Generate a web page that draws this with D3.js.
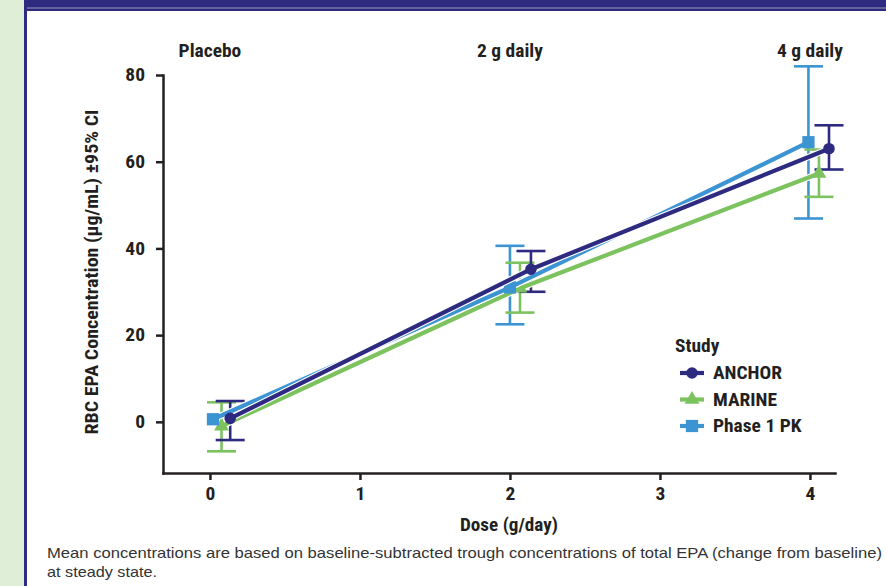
<!DOCTYPE html>
<html><head><meta charset="utf-8">
<script src="https://cdn.jsdelivr.net/npm/d3@7"></script>
<style>
body{margin:0;background:#fff;}
svg{display:block;}
.cond{font-family:"Liberation Sans Narrow","Roboto Condensed","Arial Narrow",sans-serif;font-weight:bold;}
</style></head>
<body>
<svg id="chart" width="886" height="586"></svg>
<script>
const seriesNames = ["Phase 1 PK", "MARINE", "ANCHOR"];
const seriesColors = ["#3d94d2", "#7cc35f", "#2d2a80"];
const seriesShapes = ["square", "triangle", "circle"];
// dose (plotted with a slight dodge), mean, lower CI, upper CI
const phase1X = [0.02, 2.0, 3.99];
const phase1Y = [0.6, 31.0, 64.5];
const phase1Lo = [0.6, 22.5, 46.9];
const phase1Hi = [0.6, 40.6, 82.0];
const marineX = [0.077, 2.067, 4.06];
const marineY = [-1.0, 30.8, 57.3];
const marineLo = [-6.8, 25.2, 51.9];
const marineHi = [4.5, 36.7, 62.8];
const anchorX = [0.135, 2.14, 4.127];
const anchorY = [0.8, 35.2, 63.0];
const anchorLo = [-4.2, 30.0, 58.2];
const anchorHi = [4.8, 39.4, 68.4];
const xTicks = [0, 1, 2, 3, 4];
const yTicks = [0, 20, 40, 60, 80];
const doseLabels = ["Placebo", "2 g daily", "4 g daily"];
const doseLabelX = [0, 2, 4];
const legendOrder = ["ANCHOR", "MARINE", "Phase 1 PK"];

const svg = d3.select("#chart");
// frame
svg.append("rect").attr("x",0).attr("y",0).attr("width",24).attr("height",586).attr("fill","#dfeed6");
svg.append("rect").attr("x",24).attr("y",0).attr("width",862).attr("height",11).attr("fill","#2d2a80");
svg.append("line").attr("x1",27).attr("x2",886).attr("y1",8).attr("y2",8).attr("stroke","#9a9ab8").attr("stroke-width",1);
svg.append("rect").attr("x",24).attr("y",0).attr("width",3).attr("height",586).attr("fill","#2d2a80");

const x = d3.scaleLinear().domain([-0.313, 4.167]).range([163, 835]);
const y = d3.scaleLinear().domain([-11.8, 80]).range([473, 75]);

const axisColor = "#231f20";
const gx = svg.append("g").attr("transform","translate(0,473)")
  .call(d3.axisBottom(x).tickValues(xTicks).tickFormat(d3.format("d")).tickSize(7).tickSizeOuter(0).tickPadding(7));
const gy = svg.append("g").attr("transform","translate(163,0)")
  .call(d3.axisLeft(y).tickValues(yTicks).tickFormat(d3.format("d")).tickSize(7).tickSizeOuter(0).tickPadding(11));
[gx, gy].forEach(g => {
  g.selectAll("path,line").attr("stroke", axisColor).attr("stroke-width", 2.5);
  g.selectAll("text").attr("class","cond stretch").attr("font-size",18).attr("fill",axisColor);
});
gx.select(".domain").attr("stroke-linecap","square");
gy.select(".domain").attr("stroke-linecap","square");

// axis titles
svg.append("text").attr("class","cond").attr("font-size",18).attr("fill",axisColor)
  .attr("text-anchor","middle").attr("x",509).attr("y",531)
  .attr("textLength",98).attr("lengthAdjust","spacingAndGlyphs").text("Dose (g/day)");
svg.append("text").attr("class","cond").attr("font-size",18).attr("fill",axisColor)
  .attr("text-anchor","middle").attr("transform","translate(98,272) rotate(-90)")
  .attr("textLength",325).attr("lengthAdjust","spacingAndGlyphs")
  .text("RBC EPA Concentration (µg/mL) ±95% CI");

// dose labels
svg.selectAll("text.dose").data(doseLabels).enter().append("text")
  .attr("class","cond dose stretch").attr("font-size",18).attr("fill",axisColor)
  .attr("text-anchor","middle").attr("x",(d,i)=>x(doseLabelX[i])).attr("y",57).text(d=>d);

const series = [
  {name:seriesNames[0], color:seriesColors[0], shape:seriesShapes[0], xs:phase1X, ys:phase1Y, lo:phase1Lo, hi:phase1Hi},
  {name:seriesNames[1], color:seriesColors[1], shape:seriesShapes[1], xs:marineX, ys:marineY, lo:marineLo, hi:marineHi},
  {name:seriesNames[2], color:seriesColors[2], shape:seriesShapes[2], xs:anchorX, ys:anchorY, lo:anchorLo, hi:anchorHi}
];

function symbolFor(shape, size){
  const t = shape==="square"?d3.symbolSquare:shape==="triangle"?d3.symbolTriangle:d3.symbolCircle;
  return d3.symbol().type(t).size(size)();
}
const sizes = {square:150, triangle:95, circle:105};
const line = d3.line().x(d=>x(d[0])).y(d=>y(d[1]));

// error bars
series.forEach(s=>{
  const g = svg.append("g");
  s.xs.forEach((xv,i)=>{
    if (s.hi[i]===s.lo[i]) return;
    const cx = x(xv);
    g.append("line").attr("x1",cx).attr("x2",cx).attr("y1",y(s.lo[i])).attr("y2",y(s.hi[i]))
      .attr("stroke",s.color).attr("stroke-width",2.6);
    [s.lo[i], s.hi[i]].forEach(v=>{
      g.append("line").attr("x1",cx-14.5).attr("x2",cx+14.5).attr("y1",y(v)).attr("y2",y(v))
        .attr("stroke",s.color).attr("stroke-width",2.6);
    });
  });
});
// lines and markers
[1,0,2].forEach(k=>{
  const s = series[k];
  const pts = s.xs.map((xv,i)=>[xv, s.ys[i]]);
  svg.append("path").attr("d",line(pts)).attr("fill","none").attr("stroke","#fff").attr("stroke-width",6.5);
  svg.append("path").attr("d",line(pts)).attr("fill","none").attr("stroke",s.color).attr("stroke-width",4.2);
  pts.forEach(p=>{
    svg.append("path").attr("d",symbolFor(s.shape,sizes[s.shape]))
      .attr("transform",`translate(${x(p[0])},${y(p[1])})`).attr("fill",s.color);
  });
});

// legend
const lg = svg.append("g").attr("transform","translate(675,0)");
lg.append("text").attr("class","cond stretch").attr("font-size",18).attr("fill",axisColor).attr("x",0).attr("y",352).text("Study");
legendOrder.forEach((nm,i)=>{
  const s = series.find(d=>d.name===nm);
  const yy = 373 + i*26.5;
  lg.append("line").attr("x1",5).attr("x2",29).attr("y1",yy).attr("y2",yy).attr("stroke",s.color).attr("stroke-width",4.2);
  lg.append("path").attr("d",symbolFor(s.shape,sizes[s.shape])).attr("transform",`translate(17,${yy})`).attr("fill",s.color);
  lg.append("text").attr("class","cond stretch").attr("font-size",18).attr("fill",axisColor).attr("x",38).attr("y",yy+6).text(nm);
});

// widen condensed text slightly to match the reference face
svg.selectAll("text.stretch").each(function(){
  const len = this.getComputedTextLength();
  d3.select(this).attr("textLength", len*1.08).attr("lengthAdjust","spacingAndGlyphs");
});

// footnote
const fn1 = svg.append("text").attr("font-family","'Liberation Sans',Arial,sans-serif").attr("font-size",14.8)
  .attr("fill","#333").attr("x",47).attr("y",558).attr("textLength",835).attr("lengthAdjust","spacingAndGlyphs")
  .text("Mean concentrations are based on baseline-subtracted trough concentrations of total EPA (change from baseline)");
const fn2 = svg.append("text").attr("font-family","'Liberation Sans',Arial,sans-serif").attr("font-size",14.8)
  .attr("fill","#333").attr("x",47).attr("y",577).attr("textLength",110).attr("lengthAdjust","spacingAndGlyphs")
  .text("at steady state.");
</script>
</body></html>
